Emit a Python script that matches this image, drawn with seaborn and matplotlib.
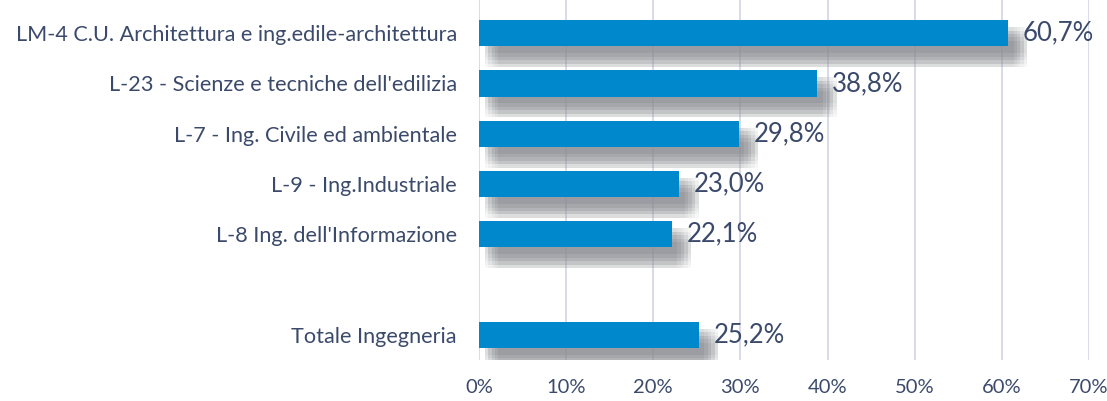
import numpy as np
import pandas as pd
import matplotlib
matplotlib.use('Agg')
import matplotlib.pyplot as plt
import matplotlib.patheffects as pe
from matplotlib.ticker import FuncFormatter
import seaborn as sns

# Data
courses = [
    'LM-4 C.U. Architettura e ing.edile-architettura',
    "L-23 - Scienze e tecniche dell'edilizia",
    'L-7 - Ing. Civile ed ambientale',
    'L-9 - Ing.Industriale',
    "L-8 Ing. dell'Informazione",
    ' ',
    'Totale Ingegneria',
]
shares = [60.7, 38.8, 29.8, 23.0, 22.1, np.nan, 25.2]
x_ticks = [0, 10, 20, 30, 40, 50, 60, 70]

df = pd.DataFrame({'Corso': courses, 'Quota': shares})

sns.set_style('white')
plt.rcParams['font.family'] = ['Lato', 'DejaVu Sans']
text_col = '#3b4a6b'

fig = plt.figure(figsize=(11.07, 4.01), dpi=100)
ax = fig.add_axes([479 / 1107, 41 / 401, (1089 - 479) / 1107, 360 / 401])

ax.set_axisbelow(True)
ax.grid(axis='x', color='#d5d9e6', linewidth=1.3)

sns.barplot(data=df, x='Quota', y='Corso', order=courses, orient='h',
            color='#0088cc', saturation=1, width=0.52, linewidth=0,
            ax=ax, zorder=3)

# soft grey drop shadow: many faint offset copies give a blur
shadow = []
for dx in [4, 6.5, 9, 11.5, 14]:
    for dy in [-5, -7.5, -10, -12.5, -15]:
        shadow.append(pe.SimplePatchShadow(offset=(dx, dy), shadow_rgbFace='#8e8f95', alpha=0.065))
for p in ax.patches:
    p.set_path_effects(shadow + [pe.Normal()])

for i, v in enumerate(shares):
    if not np.isnan(v):
        ax.text(v + 1.7, i, f'{v:.1f}%'.replace('.', ','), va='center', ha='left',
                fontsize=18.5, color=text_col)

ax.set_xlim(0, 70)
ax.set_ylim(6.5, -0.66)
ax.set_xticks(x_ticks)
ax.xaxis.set_major_formatter(FuncFormatter(lambda v, _: f'{v:.0f}%'))
ax.set_xlabel('')
ax.set_ylabel('')
ax.tick_params(axis='both', length=0, colors=text_col)
ax.tick_params(axis='x', pad=14, labelsize=14.5)
ax.tick_params(axis='y', pad=16, labelsize=15.6)
sns.despine(ax=ax, left=True, bottom=True, top=True, right=True)

fig.savefig('out.png', dpi=100)
